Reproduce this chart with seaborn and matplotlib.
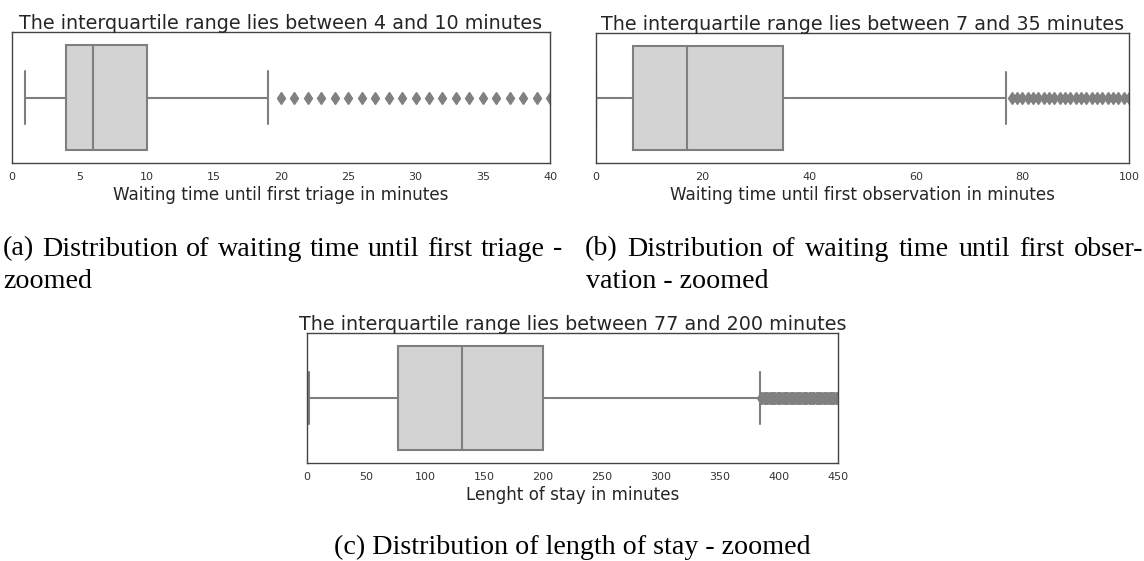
import numpy as np
import pandas as pd
import matplotlib
matplotlib.use("Agg")
import matplotlib.pyplot as plt
import seaborn as sns

# Five-number summaries (minutes): low whisker, Q1, median, Q3, high whisker
triage_summary = [1, 4, 6, 10, 19]
triage_outliers = list(range(20, 41))

observation_summary = [0, 7, 17, 35, 77]
observation_outliers = list(range(78, 101))

stay_summary = [2, 77, 131, 200, 384]
stay_outliers = list(range(385, 451))

titles = [
    "The interquartile range lies between 4 and 10 minutes",
    "The interquartile range lies between 7 and 35 minutes",
    "The interquartile range lies between 77 and 200 minutes",
]
xlabels = [
    "Waiting time until first triage in minutes",
    "Waiting time until first observation in minutes",
    "Lenght of stay in minutes",
]
xlims = [(0, 40), (0, 100), (0, 450)]
xticks = [list(range(0, 41, 5)), list(range(0, 101, 20)), list(range(0, 451, 50))]


def sample_from(summary, outliers, weight=200):
    """Minute values whose quartiles and whiskers reproduce the summary."""
    lo, q1, med, q3, hi = summary
    core = np.repeat([lo, q1, med, q3, hi], [1, weight, weight, weight, 1])
    return np.concatenate([core, np.asarray(outliers)]).astype(float)


samples = [
    sample_from(triage_summary, triage_outliers),
    sample_from(observation_summary, observation_outliers),
    sample_from(stay_summary, stay_outliers),
]

sns.set_theme(style="white")
plt.rcParams["font.family"] = ["DejaVu Sans"]

W, H = 1144, 561
fig = plt.figure(figsize=(W / 100, H / 100), dpi=100)


def px_axes(x0, y0, x1, y1):
    return fig.add_axes([x0 / W, 1 - y1 / H, (x1 - x0) / W, (y1 - y0) / H])


axes = [
    px_axes(12, 32, 550, 163),
    px_axes(596, 33, 1129, 163),
    px_axes(307, 333, 838, 463),
]

for ax, data, title, xlabel, lim, ticks in zip(axes, samples, titles, xlabels, xlims, xticks):
    sns.boxplot(
        x=data, ax=ax, color="lightgray", linecolor="gray", linewidth=1.5,
        saturation=1, width=0.8,
        flierprops=dict(marker="d", markerfacecolor="gray",
                        markeredgecolor="gray", markersize=6.5),
    )
    ax.set_xlim(*lim)
    ax.set_xticks(ticks)
    ax.set_xticklabels([str(t) for t in ticks])
    ax.tick_params(axis="x", labelsize=8, length=0, pad=6.5, colors="#333333")
    ax.set_yticks([])
    ax.set_title(title, fontsize=13.8, color="#262626", pad=2.5)
    ax.set_xlabel(xlabel, fontsize=12.1, color="#262626", labelpad=2.5)
    for s in ax.spines.values():
        s.set_color("#444444")
        s.set_linewidth(1.0)

# Sub-captions in a serif face, first lines justified across the column
serif = ["Liberation Serif", "DejaVu Serif"]
cap_kw = dict(family=serif, fontsize=20.2, color="black", va="center")
renderer = fig.canvas.get_renderer()


def justified_line(text, x0, x1, y):
    words = text.split(" ")
    arts = [fig.text(0, 1 - y / H, w, ha="left", **cap_kw) for w in words]
    widths = [a.get_window_extent(renderer).width for a in arts]
    gap = (x1 - x0 - sum(widths)) / (len(words) - 1)
    x = x0
    for a, w in zip(arts, widths):
        a.set_x(x / W)
        x += w + gap


justified_line("(a) Distribution of waiting time until first triage -", 3, 562, 249)
fig.text(3 / W, 1 - 282 / H, "zoomed", ha="left", **cap_kw)
justified_line("(b) Distribution of waiting time until first obser-", 585, 1143, 249)
fig.text(586 / W, 1 - 282 / H, "vation - zoomed", ha="left", **cap_kw)
fig.text(572 / W, 1 - 547 / H, "(c) Distribution of length of stay - zoomed", ha="center", **cap_kw)

fig.savefig("out.png", dpi=100)
